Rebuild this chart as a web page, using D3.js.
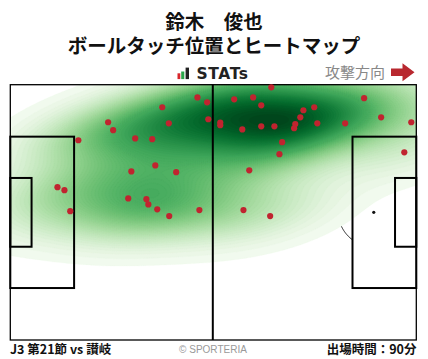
<!DOCTYPE html>
<html><head><meta charset="utf-8">
<script src="https://cdn.jsdelivr.net/npm/d3@7"></script>
<style>
body{margin:0;background:#fff;}
svg{display:block;font-family:"Noto Sans CJK JP","Noto Sans",sans-serif;}
</style></head><body>
<svg id="c" width="428" height="359"></svg>
<script>
// Ball touch positions in pitch metres (105 x 68), attacking left -> right
const touchX = [39.3,41.0,25.3,26.6,17.6,32.3,36.7,48.4,50.9,51.2,67.5,57.9,62.8,64.9,54.3,54.3,60.0,64.9,68.3,91.5,78.6,75.8,75.0,73.7,73.4,79.4,86.6,95.9,103.7,70.3,69.6,101.9,61.8,60.3,67.2,37.5,31.3,42.9,12.2,14.0,30.5,35.2,35.7,38.0,41.1,48.9,15.5];
const touchY = [6.0,10.3,10.0,12.1,14.8,14.3,14.5,3.4,4.7,9.2,0.7,3.9,3.4,5.5,10.1,10.8,11.9,11.1,11.1,3.6,6.0,6.8,8.7,10.5,11.6,10.3,10.3,8.7,10.0,15.3,18.5,18.0,22.8,33.4,35.0,21.5,23.1,23.3,27.3,28.1,30.3,30.5,31.9,33.2,35.0,33.4,33.7];

const titleLines = ["鈴木　俊也", "ボールタッチ位置とヒートマップ"];
const directionLabel = "攻撃方向";
const footerLeft = "J3 第21節 vs 讃岐";
const footerRight = "出場時間：90分";
const credit = "© SPORTERIA";

const svg = d3.select("#c");
const x = d3.scaleLinear().domain([0,105]).range([10.3,416.3]);
const y = d3.scaleLinear().domain([0,68]).range([84.7,340]);

// ---------- header ----------
svg.append("text").attr("x",214).attr("y",28.5).attr("text-anchor","middle")
  .attr("font-size",19.5).attr("font-weight","bold").attr("fill","#111").text(titleLines[0]);
svg.append("text").attr("x",214).attr("y",53).attr("text-anchor","middle")
  .attr("font-size",19.5).attr("font-weight","bold").attr("fill","#111").text(titleLines[1]);

// STATs logo
const logo = svg.append("g");
logo.append("rect").attr("x",177.5).attr("y",73.3).attr("width",2.8).attr("height",5.8).attr("fill","#d8262c");
logo.append("rect").attr("x",181.2).attr("y",71.5).attr("width",3.1).attr("height",7.6).attr("fill","#2aa54a");
logo.append("rect").attr("x",185.6).attr("y",67.6).attr("width",3.4).attr("height",11.5).attr("fill","#222");
logo.append("text").attr("x",196.5).attr("y",79.2).attr("font-family","DejaVu Sans")
  .attr("font-weight","bold").attr("font-size",15.5).attr("letter-spacing",0.6).attr("fill","#222").text("STATs");

svg.append("text").attr("x",325).attr("y",78).attr("font-size",15).attr("fill","#888").text(directionLabel);
svg.append("path").attr("d","M391,68.5 H402.5 V63.2 L414.5,72.2 L402.5,81.2 V76 H391 Z").attr("fill","#b8282f");

// ---------- pitch under-layer (arcs & spots, hidden by heatmap where it covers) ----------
const under = svg.append("g");
under.append("rect").attr("x",x(0)).attr("y",y(0)).attr("width",x(105)-x(0)).attr("height",y(68)-y(0)).attr("fill","#fff");
const arcR = 9.15;
function arcPath(cx, side){
  const pts = [];
  for(let a=0;a<=360;a+=2){
    const r = a*Math.PI/180;
    const mxp = cx + arcR*Math.cos(r), myp = 34 + arcR*Math.sin(r);
    if(side<0 ? mxp>16.5 : mxp<105-16.5) pts.push([x(mxp),y(myp)]);
  }
  return pts;
}
[[11,-1],[94,1]].forEach(([cx,s])=>{
  const pts = arcPath(cx,s).sort((a,b)=>a[1]-b[1]);
  under.append("path").attr("d",d3.line()(pts)).attr("fill","none").attr("stroke","#222").attr("stroke-width",1);
  under.append("circle").attr("cx",x(cx)).attr("cy",y(34)).attr("r",1.6).attr("fill","#111");
});

// ---------- KDE heatmap (gaussian kde, full covariance) ----------
const n = touchX.length;
const mx = d3.mean(touchX), my = d3.mean(touchY);
let sxx=0, syy=0, sxy=0;
for(let i=0;i<n;i++){const dx=touchX[i]-mx, dy=touchY[i]-my; sxx+=dx*dx; syy+=dy*dy; sxy+=dx*dy;}
sxx/=(n-1); syy/=(n-1); sxy/=(n-1);
const bwAdjust = 1.12;
const fct = Math.pow(n,-1/6)*bwAdjust, f2=fct*fct;
const cxx=sxx*f2, cyy=syy*f2, cxy=sxy*f2;
const det = cxx*cyy-cxy*cxy;
const ixx=cyy/det, iyy=cxx/det, ixy=-cxy/det;

const step=0.5, gx0=-35, gy0=-35, nx=Math.round((140-gx0)/step)+1, ny=Math.round((103-gy0)/step)+1;
const values = new Float64Array(nx*ny);
for(let j=0;j<ny;j++){
  const py = gy0 + j*step;
  for(let i=0;i<nx;i++){
    const px = gx0 + i*step;
    let s=0;
    for(let k=0;k<n;k++){
      const dx=px-touchX[k], dy=py-touchY[k];
      s += Math.exp(-0.5*(ixx*dx*dx + 2*ixy*dx*dy + iyy*dy*dy));
    }
    values[j*nx+i]=s;
  }
}
const sorted = Array.from(values).sort((a,b)=>b-a);
const total = d3.sum(sorted);
const cum = new Float64Array(sorted.length);
let acc=0; for(let i=0;i<sorted.length;i++){acc+=sorted[i]; cum[i]=acc/total;}
function q2level(q){
  const t = 1-q; const idx = d3.bisectLeft(cum, t);
  return sorted[Math.min(idx, sorted.length-1)];
}
const NLEV = 70, thresh = 0.012;
const levels = d3.range(NLEV).map(i=>q2level(thresh + (1-thresh)*i/(NLEV-1)));
const lmin = levels[0], lmax = levels[levels.length-1];
const contours = d3.contours().size([nx,ny]).thresholds(levels.slice(0,-1))(values);
const proj = d3.geoTransform({point(px,py){ this.stream.point(x(gx0+(px-0.5)*step), y(gy0+(py-0.5)*step)); }});
const gpath = d3.geoPath(proj);

const defs = svg.append("defs");
defs.append("clipPath").attr("id","pitchClip").append("rect")
  .attr("x",x(0)).attr("y",y(0)).attr("width",x(105)-x(0)).attr("height",y(68)-y(0));
const heat = svg.append("g").attr("clip-path","url(#pitchClip)");
const colorT = d3.scalePow().exponent(0.72).domain([lmin,lmax]).range([0.02,1]);
const col = (i)=>d3.interpolateGreens(colorT((levels[i]+levels[i+1])/2));
heat.selectAll("path").data(contours).join("path")
  .attr("d",gpath)
  .attr("fill",(d,i)=>col(i))
  .attr("stroke",(d,i)=>col(i))
  .attr("stroke-width",0.3);

// ---------- pitch lines on top ----------
const lines = svg.append("g").attr("fill","none").attr("stroke","#000");
lines.append("rect").attr("x",x(0)).attr("y",y(0)).attr("width",x(105)-x(0)).attr("height",y(68)-y(0)).attr("stroke-width",1.3);
lines.append("line").attr("x1",x(52.5)-0.5).attr("x2",x(52.5)-0.5).attr("y1",y(0)).attr("y2",y(68)).attr("stroke-width",2);
const boxes = [[0,16.5,40.32],[0,5.5,18.32],[105-16.5,16.5,40.32],[105-5.5,5.5,18.32]];
boxes.forEach(([bx,w,h])=>{
  lines.append("rect").attr("x",x(bx)).attr("y",y(34-h/2)).attr("width",x(w)-x(0)).attr("height",y(34+h/2)-y(34-h/2)).attr("stroke-width",2);
});

// ---------- touches ----------
svg.append("g").selectAll("circle").data(d3.range(n)).join("circle")
  .attr("cx",i=>x(touchX[i])).attr("cy",i=>y(touchY[i])).attr("r",3.1).attr("fill","#c0242f");

// ---------- footer ----------
svg.append("text").attr("x",10).attr("y",354).attr("font-size",12.5).attr("font-weight","bold").attr("fill","#111").text(footerLeft);
svg.append("text").attr("x",213).attr("y",352.5).attr("text-anchor","middle").attr("font-family","Liberation Sans, sans-serif").attr("font-size",10).attr("fill","#999").text(credit);
svg.append("text").attr("x",416.5).attr("y",354).attr("text-anchor","end").attr("font-size",12.5).attr("font-weight","bold").attr("fill","#111").text(footerRight);
</script>
</body></html>
